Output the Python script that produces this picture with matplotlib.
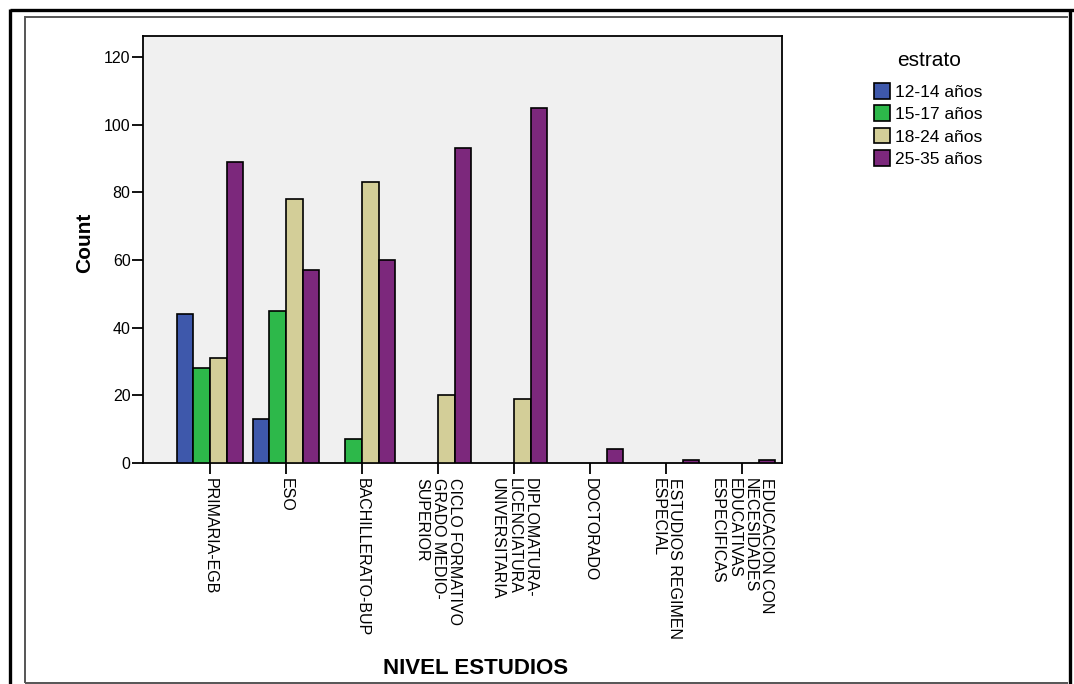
import matplotlib
matplotlib.use("Agg")
import matplotlib.pyplot as plt
import numpy as np
from matplotlib.lines import Line2D
from matplotlib.patches import Patch

plt.rcParams['font.family'] = ['Liberation Sans', 'DejaVu Sans']

categories = [
    "PRIMARIA-EGB",
    "ESO",
    "BACHILLERATO-BUP",
    "CICLO FORMATIVO\nGRADO MEDIO-\nSUPERIOR",
    "DIPLOMATURA-\nLICENCIATURA\nUNIVERSITARIA",
    "DOCTORADO",
    "ESTUDIOS REGIMEN\nESPECIAL",
    "EDUCACION CON\nNECESIDADES\nEDUCATIVAS\nESPECIFICAS",
]
series_names = ["12-14 años", "15-17 años", "18-24 años", "25-35 años"]
v_12_14 = [44, 13, 0, 0, 0, 0, 0, 0]
v_15_17 = [28, 45, 7, 0, 0, 0, 0, 0]
v_18_24 = [31, 78, 83, 20, 19, 0, 0, 0]
v_25_35 = [89, 57, 60, 93, 105, 4, 1, 1]
y_ticks = [0, 20, 40, 60, 80, 100, 120]

colors = ["#3e58ab", "#2db84a", "#d3ce98", "#7c287c"]
series = [v_12_14, v_15_17, v_18_24, v_25_35]

W, H = 1074, 684
fig = plt.figure(figsize=(W / 100, H / 100), dpi=100)
fig.patch.set_facecolor("white")

ax = fig.add_axes([143 / W, 1 - 463 / H, (782 - 143) / W, (463 - 36) / H])
ax.set_facecolor("#f0f0f0")

x = np.arange(len(categories))
bw = 0.22
for i, (vals, c, name) in enumerate(zip(series, colors, series_names)):
    offs = (i - 1.5) * bw
    vals = np.array(vals, dtype=float)
    mask = vals > 0
    ax.bar(x[mask] + offs, vals[mask], width=bw, color=c, edgecolor="black",
           linewidth=1.2, label=name, zorder=3)

ax.set_xlim(-0.882, 7.526)
ax.set_ylim(0, 126.2)
ax.set_yticks(y_ticks)
ax.set_yticklabels([str(t) for t in y_ticks], fontsize=11.5)
ax.set_xticks(x)
ax.set_xticklabels(categories, rotation=-90, fontsize=11.5, va="top",
                   ha="center", linespacing=1.12, multialignment="left")
ax.tick_params(axis="both", direction="out", length=8, width=1.3, color="black")
ax.tick_params(axis="y", pad=1)
ax.tick_params(axis="x", pad=3)
for s in ax.spines.values():
    s.set_linewidth(1.3)
    s.set_color("black")

ax.set_ylabel("Count", fontsize=15, fontweight="bold", va="center")
ax.yaxis.set_label_coords((85 - 143) / 639, (463 - 243) / 427)
ax.set_xlabel("NIVEL ESTUDIOS", fontsize=16, fontweight="bold", va="center")
ax.xaxis.set_label_coords((476 - 143) / 639, (463 - 668) / 427)

handles = [Patch(facecolor=c, edgecolor="black", linewidth=1.2) for c in colors]
fig.text(897 / W, 1 - 60 / H, "estrato", fontsize=15, ha="left", va="center")
leg = fig.legend(handles, series_names, loc="upper left",
                 bbox_to_anchor=(874 / W, 1 - 83 / H), frameon=False,
                 fontsize=12.5, handlelength=0.92, handleheight=1.0,
                 handletextpad=0.3, labelspacing=0.33, borderpad=0,
                 borderaxespad=0)

# outer frames
def fline(xs, ys, **kw):
    fig.add_artist(Line2D([v / W for v in xs], [1 - v / H for v in ys],
                          transform=fig.transFigure, **kw))

fline([9.5, 1074], [10.3, 10.3], color="black", linewidth=2.4, solid_capstyle="butt")
fline([9.7, 9.7], [9, 684], color="black", linewidth=2.4, solid_capstyle="butt")
fline([1070, 1070], [9, 684], color="black", linewidth=2.4, solid_capstyle="butt")
fline([25, 1068], [16.7, 16.7], color="#555555", linewidth=1.4, solid_capstyle="butt")
fline([25, 25], [16, 683], color="#555555", linewidth=1.4, solid_capstyle="butt")
fline([25, 1068], [682.5, 682.5], color="#555555", linewidth=1.4, solid_capstyle="butt")

fig.savefig("out.png", dpi=100)
